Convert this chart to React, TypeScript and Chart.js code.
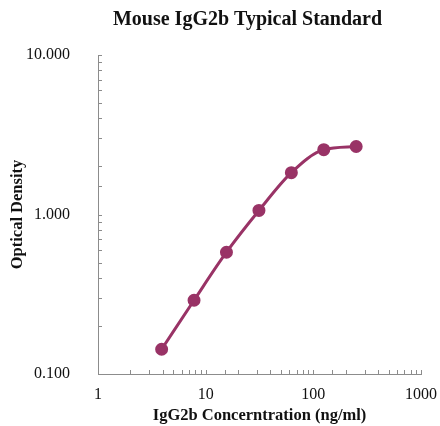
import React, { useEffect, useRef } from "react";
import { Chart, registerables } from "chart.js";

Chart.register(...registerables);

const concentrations = [3.9, 7.8, 15.6, 31.25, 62.5, 125, 250];
const odValues = [0.143, 0.29, 0.58, 1.06, 1.83, 2.55, 2.67];
const xTickLabels = [1, 10, 100, 1000];
const yTickLabels = [0.1, 1, 10];

const titleText = "Mouse IgG2b Typical Standard";
const xTitle = "IgG2b Concerntration (ng/ml)";
const yTitle = "Optical Density";

const lineColor = "#993366";
const axisColor = "#8c8c8c";
const fontFamily = "'Liberation Serif', 'Times New Roman', serif";

const isPow10 = (v: number) => {
  const l = Math.log10(v);
  return Math.abs(l - Math.round(l)) < 1e-9;
};

const innerTicks = {
  id: "innerTicks",
  afterLayout(chart: any) {
    const tb = chart.titleBlock;
    if (tb) {
      const shift = (chart.chartArea.left + chart.chartArea.right) / 2 - (tb.left + tb.right) / 2 - 12;
      tb.left += shift;
      tb.right += shift;
    }
  },
  afterDraw(chart: any) {
    const { ctx, chartArea } = chart;
    ctx.save();
    ctx.strokeStyle = axisColor;
    ctx.lineWidth = 1;
    const xs = chart.scales.x;
    const ys = chart.scales.y;
    xs.ticks.forEach((t: any) => {
      const px = Math.round(xs.getPixelForValue(t.value)) + 0.5;
      ctx.beginPath();
      ctx.moveTo(px, chartArea.bottom);
      ctx.lineTo(px, chartArea.bottom - 4);
      ctx.stroke();
    });
    ys.ticks.forEach((t: any) => {
      const py = Math.round(ys.getPixelForValue(t.value)) + 0.5;
      ctx.beginPath();
      ctx.moveTo(chartArea.left, py);
      ctx.lineTo(chartArea.left + 4, py);
      ctx.stroke();
    });
    ctx.restore();
  },
};

export default function App() {
  const ref = useRef<HTMLCanvasElement>(null);
  useEffect(() => {
    if (!ref.current) return;
    const chart = new Chart(ref.current, {
      type: "line",
      data: {
        datasets: [
          {
            data: concentrations.map((c, i) => ({ x: c, y: odValues[i] })),
            borderColor: lineColor,
            backgroundColor: lineColor,
            borderWidth: 3,
            pointRadius: 5,
            pointHoverRadius: 5,
            cubicInterpolationMode: "monotone",
            fill: false,
          },
        ],
      },
      options: {
        animation: false,
        responsive: true,
        maintainAspectRatio: false,
        layout: { padding: { left: 0, right: 16, top: 0, bottom: 0 } },
        plugins: {
          legend: { display: false },
          tooltip: { enabled: false },
          title: {
            display: true,
            text: titleText,
            color: "#111",
            font: { family: fontFamily, size: 20, weight: "bold" },
            padding: { top: 8, bottom: 23 },
          },
        },
        scales: {
          x: {
            type: "logarithmic",
            min: 1,
            max: 1000,
            grid: { display: false },
            border: { display: true, color: axisColor, width: 1 },
            afterFit: (s: any) => {
              s.height = 52;
            },
            afterBuildTicks: (s: any) => {
              const extra = xTickLabels.filter(
                (v) => !s.ticks.some((t: any) => Math.abs(t.value - v) < 1e-9)
              );
              extra.forEach((v) => s.ticks.push({ value: v }));
            },
            ticks: {
              autoSkip: false,
              maxRotation: 0,
              padding: 3,
              color: "#111",
              font: { family: fontFamily, size: 16 },
              callback: (v: any) =>
                xTickLabels.some((t) => Math.abs(t - Number(v)) < 1e-9) ? String(Number(v)) : "",
            },
            title: {
              display: true,
              text: xTitle,
              color: "#111",
              font: { family: fontFamily, size: 16.5, weight: "bold" },
              padding: { top: 12, bottom: 0 },
            },
          },
          y: {
            type: "logarithmic",
            min: 0.1,
            max: 10,
            grid: { display: false },
            border: { display: true, color: axisColor, width: 1 },
            afterFit: (s: any) => {
              s.width = 98;
            },
            ticks: {
              autoSkip: false,
              padding: 20,
              color: "#111",
              font: { family: fontFamily, size: 16 },
              callback: (v: any) =>
                yTickLabels.some((t) => Math.abs(t - Number(v)) < 1e-9) && isPow10(Number(v))
                  ? Number(v).toFixed(3)
                  : "",
            },
            title: {
              display: true,
              text: yTitle,
              color: "#111",
              font: { family: fontFamily, size: 16.5, weight: "bold" },
              padding: { top: 8, bottom: 10 },
            },
          },
        },
      },
      plugins: [innerTicks],
    } as any);
    return () => chart.destroy();
  }, []);
  return (
    <div style={{ position: "fixed", left: 0, top: 0, width: 440, height: 426 }}>
      <canvas ref={ref} />
    </div>
  );
}
